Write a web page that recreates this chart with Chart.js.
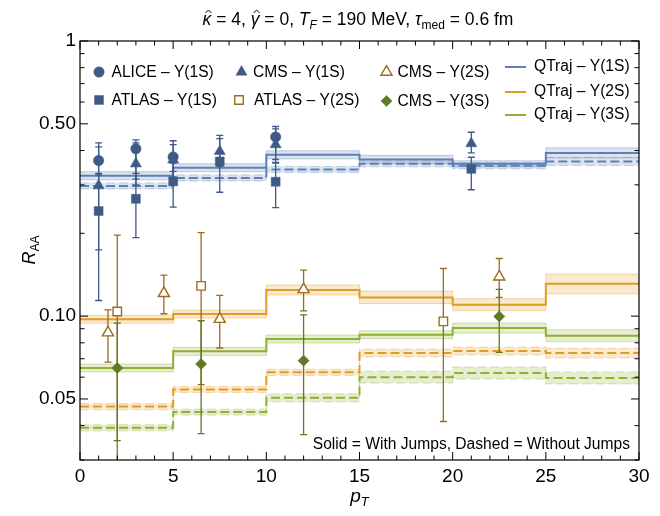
<!DOCTYPE html>
<html>
<head>
<meta charset="utf-8">
<script src="https://cdn.jsdelivr.net/npm/chart.js@4.4.0/dist/chart.umd.min.js"></script>
<style>
  body { margin: 0; background: #fff; }
</style>
</head>
<body>
<canvas id="raaChart" width="660" height="516"></canvas>
<script>
const FONT = '"Liberation Sans", Arial, sans-serif';

// axis ticks
const xTickValues = [0, 5, 10, 15, 20, 25, 30];
const yTickValues = [0.05, 0.1, 0.5, 1];
const yTickLabels = ['0.05', '0.10', '0.50', '1'];
const yMinorTicks = [0.03, 0.04, 0.06, 0.07, 0.08, 0.09, 0.2, 0.3, 0.4, 0.6, 0.7, 0.8, 0.9];

// pT bin edges of the QTraj curves
const binEdges = [0, 5, 10, 15, 20, 25, 30];

// QTraj R_AA per pT bin, with band limits
const qt1sSolid   = [0.324, 0.346, 0.386, 0.371, 0.358, 0.392];
const qt1sSolidLo = [0.313, 0.335, 0.373, 0.359, 0.349, 0.376];
const qt1sSolidHi = [0.335, 0.358, 0.399, 0.384, 0.367, 0.409];
const qt1sDash    = [0.297, 0.318, 0.341, 0.358, 0.352, 0.365];
const qt1sDashLo  = [0.290, 0.310, 0.333, 0.349, 0.343, 0.353];
const qt1sDashHi  = [0.305, 0.326, 0.350, 0.367, 0.361, 0.377];

const qt2sSolid   = [0.0975, 0.1017, 0.1245, 0.117, 0.110, 0.131];
const qt2sSolidLo = [0.0943, 0.0984, 0.1194, 0.1110, 0.1046, 0.1205];
const qt2sSolidHi = [0.1008, 0.1052, 0.1298, 0.1233, 0.1157, 0.1424];
const qt2sDash    = [0.0469, 0.0541, 0.0625, 0.0734, 0.0747, 0.0734];
const qt2sDashLo  = [0.0457, 0.0528, 0.0609, 0.0710, 0.0722, 0.0704];
const qt2sDashHi  = [0.0481, 0.0555, 0.0641, 0.0759, 0.0772, 0.0765];

const qt3sSolid   = [0.0648, 0.0745, 0.0826, 0.0856, 0.0905, 0.0849];
const qt3sSolidLo = [0.0627, 0.0720, 0.0799, 0.0828, 0.0868, 0.0807];
const qt3sSolidHi = [0.0670, 0.0770, 0.0854, 0.0885, 0.0944, 0.0893];
const qt3sDash    = [0.0393, 0.0448, 0.0505, 0.0600, 0.0621, 0.0596];
const qt3sDashLo  = [0.0383, 0.0437, 0.0488, 0.0571, 0.0591, 0.0567];
const qt3sDashHi  = [0.0403, 0.0459, 0.0522, 0.0631, 0.0653, 0.0627];

// measurements: pT, R_AA, lower and upper end of the error bar
const alice1sX  = [1, 3, 5, 10.5];
const alice1sY  = [0.368, 0.406, 0.379, 0.448];
const alice1sLo = [0.326, 0.315, 0.336, 0.371];
const alice1sHi = [0.426, 0.437, 0.434, 0.489];

const cms1sX  = [1, 3, 5, 7.5, 10.5, 21];
const cms1sY  = [0.298, 0.358, 0.370, 0.397, 0.420, 0.424];
const cms1sLo = [0.174, 0.300, 0.320, 0.350, 0.362, 0.392];
const cms1sHi = [0.412, 0.426, 0.420, 0.454, 0.479, 0.466];

const atlas1sX  = [1, 3, 5, 7.5, 10.5, 21];
const atlas1sY  = [0.241, 0.267, 0.309, 0.365, 0.308, 0.343];
const atlas1sLo = [0.114, 0.193, 0.249, 0.282, 0.248, 0.288];
const atlas1sHi = [0.330, 0.330, 0.360, 0.442, 0.360, 0.378];

const atlas2sX  = [2, 6.5, 19.5];
const atlas2sY  = [0.104, 0.1288, 0.0957];
const atlas2sLo = [0.020, 0.0564, 0.0414];
const atlas2sHi = [0.197, 0.201, 0.149];

const cms2sX  = [1.5, 4.5, 7.5, 12, 22.5];
const cms2sY  = [0.0871, 0.121, 0.0975, 0.125, 0.139];
const cms2sLo = [0.068, 0.102, 0.0766, 0.1045, 0.117];
const cms2sHi = [0.1054, 0.141, 0.119, 0.147, 0.162];

const cms3sX  = [2, 6.5, 12, 22.5];
const cms3sY  = [0.0648, 0.067, 0.0689, 0.0998];
const cms3sLo = [0.0353, 0.0374, 0.0371, 0.0739];
const cms3sHi = [0.0943, 0.0962, 0.101, 0.125];

const blue = '#5e81b5', orange = '#e19c24', green = '#8fb032';
const navy = '#3f5a86', brown = '#9c6b1f', olive = '#5f7a25';

function rgba(hex, a) {
  const n = parseInt(hex.slice(1), 16);
  return `rgba(${n >> 16},${(n >> 8) & 255},${n & 255},${a})`;
}

// step curve: one point per bin start plus the closing edge
function stepData(vals) {
  return binEdges.map((x, i) => ({ x, y: vals[Math.min(i, vals.length - 1)] }));
}

// band (lo filled up to hi) and the central line
function qtraj(center, lo, hi, color, dashed) {
  const dash = dashed ? [9, 4] : [];
  const common = { type: 'line', stepped: true, pointRadius: 0, order: 2 };
  return [
    { ...common, data: stepData(lo), borderColor: rgba(color, 0.35), borderWidth: 1,
      borderDash: dash, backgroundColor: rgba(color, 0.22), fill: '+1', order: 3 },
    { ...common, data: stepData(hi), borderColor: rgba(color, 0.35), borderWidth: 1,
      borderDash: dash, fill: false, order: 3 },
    { ...common, data: stepData(center), borderColor: color, borderWidth: 2,
      borderDash: dash, fill: false }
  ];
}

function points(xs, ys, lo, hi, style, radius, color, open) {
  return {
    type: 'scatter',
    data: xs.map((x, i) => ({ x, y: ys[i] })),
    errLo: lo, errHi: hi, errColor: color,
    pointStyle: style, pointRadius: radius,
    backgroundColor: open ? '#fff' : color,
    borderColor: color, borderWidth: open ? 1.4 : 0.5,
    order: 0
  };
}

const alice1s = points(alice1sX, alice1sY, alice1sLo, alice1sHi, 'circle', 5.2, navy, false);
const cms1s = points(cms1sX, cms1sY, cms1sLo, cms1sHi, 'triangle', 6.4, navy, false);
const atlas1s = points(atlas1sX, atlas1sY, atlas1sLo, atlas1sHi, 'rect', 6.3, navy, false);
const atlas2s = points(atlas2sX, atlas2sY, atlas2sLo, atlas2sHi, 'rect', 6, brown, true);
const cms2s = points(cms2sX, cms2sY, cms2sLo, cms2sHi, 'triangle', 6.4, brown, true);
const cms3s = points(cms3sX, cms3sY, cms3sLo, cms3sHi, 'rectRot', 5.6, olive, false);

const datasets = [
  alice1s, cms1s, atlas1s, atlas2s, cms2s, cms3s,
  ...qtraj(qt1sSolid, qt1sSolidLo, qt1sSolidHi, blue, false),
  ...qtraj(qt1sDash, qt1sDashLo, qt1sDashHi, blue, true),
  ...qtraj(qt2sSolid, qt2sSolidLo, qt2sSolidHi, orange, false),
  ...qtraj(qt2sDash, qt2sDashLo, qt2sDashHi, orange, true),
  ...qtraj(qt3sSolid, qt3sSolidLo, qt3sSolidHi, green, false),
  ...qtraj(qt3sDash, qt3sDashLo, qt3sDashHi, green, true)
];

// vertical error bars with caps, drawn just before the first marker set
const errorBars = {
  id: 'errorBars',
  beforeDatasetsDraw(chart) { chart.$errDone = false; },
  beforeDatasetDraw(chart, args) {
    const ds = chart.data.datasets[args.index];
    if (!ds.errLo || chart.$errDone) return;
    chart.$errDone = true;
    const { ctx, chartArea: a, scales: { x, y } } = chart;
    ctx.save();
    ctx.beginPath();
    ctx.rect(a.left, a.top, a.right - a.left, a.bottom - a.top);
    ctx.clip();
    ctx.lineWidth = 1.3;
    chart.data.datasets.forEach(d => {
      if (!d.errLo) return;
      ctx.strokeStyle = d.errColor;
      d.data.forEach((p, i) => {
        const px = x.getPixelForValue(p.x);
        const top = y.getPixelForValue(d.errHi[i]);
        const bot = y.getPixelForValue(d.errLo[i]);
        ctx.beginPath();
        ctx.moveTo(px, top); ctx.lineTo(px, bot);
        ctx.moveTo(px - 3.5, top); ctx.lineTo(px + 3.5, top);
        ctx.moveTo(px - 3.5, bot); ctx.lineTo(px + 3.5, bot);
        ctx.stroke();
      });
    });
    ctx.restore();
  }
};

// frame with inward ticks on all four sides
const frame = {
  id: 'frame',
  afterDatasetsDraw(chart) {
    const { ctx, chartArea: a, scales: { x, y } } = chart;
    ctx.save();
    ctx.strokeStyle = '#000';
    ctx.lineWidth = 1.2;
    ctx.strokeRect(a.left, a.top, a.right - a.left, a.bottom - a.top);
    ctx.lineWidth = 1;
    ctx.beginPath();
    for (let v = 0; v <= 30; v++) {
      const px = x.getPixelForValue(v);
      const len = v % 5 === 0 ? 8 : 4.5;
      ctx.moveTo(px, a.bottom); ctx.lineTo(px, a.bottom - len);
      ctx.moveTo(px, a.top); ctx.lineTo(px, a.top + len);
    }
    const yTick = (v, len) => {
      const py = y.getPixelForValue(v);
      ctx.moveTo(a.left, py); ctx.lineTo(a.left + len, py);
      ctx.moveTo(a.right, py); ctx.lineTo(a.right - len, py);
    };
    yTickValues.forEach(v => yTick(v, 8));
    yMinorTicks.forEach(v => yTick(v, 4.5));
    ctx.stroke();
    ctx.restore();
  }
};

// text pieces side by side: [text, font, dy]
function drawRuns(ctx, runs, x, y, align) {
  let total = 0;
  runs.forEach(r => { ctx.font = r[1]; total += ctx.measureText(r[0]).width; });
  let cx = align === 'center' ? x - total / 2 : (align === 'right' ? x - total : x);
  const pos = [];
  runs.forEach(r => {
    ctx.font = r[1];
    const w = ctx.measureText(r[0]).width;
    ctx.fillText(r[0], cx, y + (r[2] || 0));
    pos.push({ x: cx, w });
    cx += w;
  });
  return pos;
}

function hat(ctx, cx, top) {
  ctx.beginPath();
  ctx.moveTo(cx - 3, top + 3);
  ctx.lineTo(cx, top);
  ctx.lineTo(cx + 3, top + 3);
  ctx.stroke();
}

const legendMarks = [
  { ds: alice1s, label: 'ALICE – Υ(1S)', mx: 99, my: 72, tx: 111.5 },
  { ds: cms1s, label: 'CMS – Υ(1S)', mx: 241.5, my: 72, tx: 253 },
  { ds: cms2s, label: 'CMS – Υ(2S)', mx: 386.5, my: 72, tx: 397.5 },
  { ds: atlas1s, label: 'ATLAS – Υ(1S)', mx: 99, my: 100, tx: 111.5 },
  { ds: atlas2s, label: 'ATLAS – Υ(2S)', mx: 239, my: 100, tx: 254 },
  { ds: cms3s, label: 'CMS – Υ(3S)', mx: 386.5, my: 101, tx: 397.5 }
];
const legendLines = [
  { color: blue, label: 'QTraj – Υ(1S)', y: 67 },
  { color: orange, label: 'QTraj – Υ(2S)', y: 92 },
  { color: green, label: 'QTraj – Υ(3S)', y: 115 }
];

const texts = {
  id: 'texts',
  afterDraw(chart) {
    const { ctx, chartArea: a } = chart;
    ctx.save();
    ctx.fillStyle = '#000';
    ctx.strokeStyle = '#000';
    ctx.lineWidth = 1;
    ctx.textBaseline = 'alphabetic';

    // title
    const it = `italic 17.5px ${FONT}`, up = `17.5px ${FONT}`;
    const pos = drawRuns(ctx, [
      ['κ', it], [' = 4, ', up], ['γ', it], [' = 0, ', up],
      ['T', it], ['F', `italic 12px ${FONT}`, 4], [' = 190 MeV, ', up],
      ['τ', it], ['med', `12px ${FONT}`, 4], [' = 0.6 fm', up]
    ], 358, 25, 'center');
    hat(ctx, pos[0].x + pos[0].w / 2 + 1.5, 10);
    hat(ctx, pos[2].x + pos[2].w / 2 + 1.5, 10);

    // axis titles
    drawRuns(ctx, [['p', `italic 19px ${FONT}`], ['T', `italic 13px ${FONT}`, 4]],
      (a.left + a.right) / 2, 502, 'center');
    ctx.save();
    ctx.translate(35, 250);
    ctx.rotate(-Math.PI / 2);
    drawRuns(ctx, [['R', `italic 18px ${FONT}`], ['AA', `12px ${FONT}`, 4]], 0, 0, 'center');
    ctx.restore();

    // legend
    ctx.font = `15.6px ${FONT}`;
    ctx.textBaseline = 'middle';
    legendMarks.forEach(m => {
      const d = m.ds;
      ctx.fillStyle = d.backgroundColor;
      ctx.strokeStyle = d.borderColor;
      ctx.lineWidth = d.borderWidth;
      Chart.helpers.drawPoint(ctx, { pointStyle: d.pointStyle, radius: d.pointRadius,
        rotation: 0, borderWidth: d.borderWidth }, m.mx, m.my);
      ctx.fillStyle = '#000';
      ctx.fillText(m.label, m.tx, m.my + 0.5);
    });
    legendLines.forEach(l => {
      ctx.strokeStyle = l.color;
      ctx.lineWidth = 2;
      ctx.beginPath();
      ctx.moveTo(505, l.y); ctx.lineTo(526, l.y);
      ctx.stroke();
      ctx.fillStyle = '#000';
      ctx.fillText(l.label, 534, l.y);
    });

    // line style note
    ctx.textAlign = 'right';
    ctx.fillText('Solid = With Jumps, Dashed = Without Jumps', 630, 445);
    ctx.restore();
  }
};

const tickFont = { family: FONT, size: 19 };

new Chart(document.getElementById('raaChart'), {
  type: 'line',
  data: { datasets },
  options: {
    responsive: false,
    animation: false,
    events: [],
    layout: { padding: { top: 41, right: 21, left: 0, bottom: 0 } },
    plugins: { legend: { display: false }, tooltip: { enabled: false } },
    scales: {
      x: {
        type: 'linear', min: 0, max: 30,
        afterBuildTicks: s => { s.ticks = xTickValues.map(v => ({ value: v })); },
        afterFit: s => { s.height = 56; },
        grid: { display: false, drawTicks: false },
        border: { display: false },
        ticks: { font: tickFont, color: '#000', padding: 5, maxRotation: 0, autoSkip: false }
      },
      y: {
        type: 'logarithmic', min: 0.03, max: 1,
        afterBuildTicks: s => { s.ticks = yTickValues.map(v => ({ value: v })); },
        afterFit: s => { s.width = 80; },
        grid: { display: false, drawTicks: false },
        border: { display: false },
        ticks: {
          font: tickFont, color: '#000', padding: 4, autoSkip: false,
          callback: (v, i) => yTickLabels[i]
        }
      }
    }
  },
  plugins: [errorBars, frame, texts]
});
</script>
</body>
</html>
